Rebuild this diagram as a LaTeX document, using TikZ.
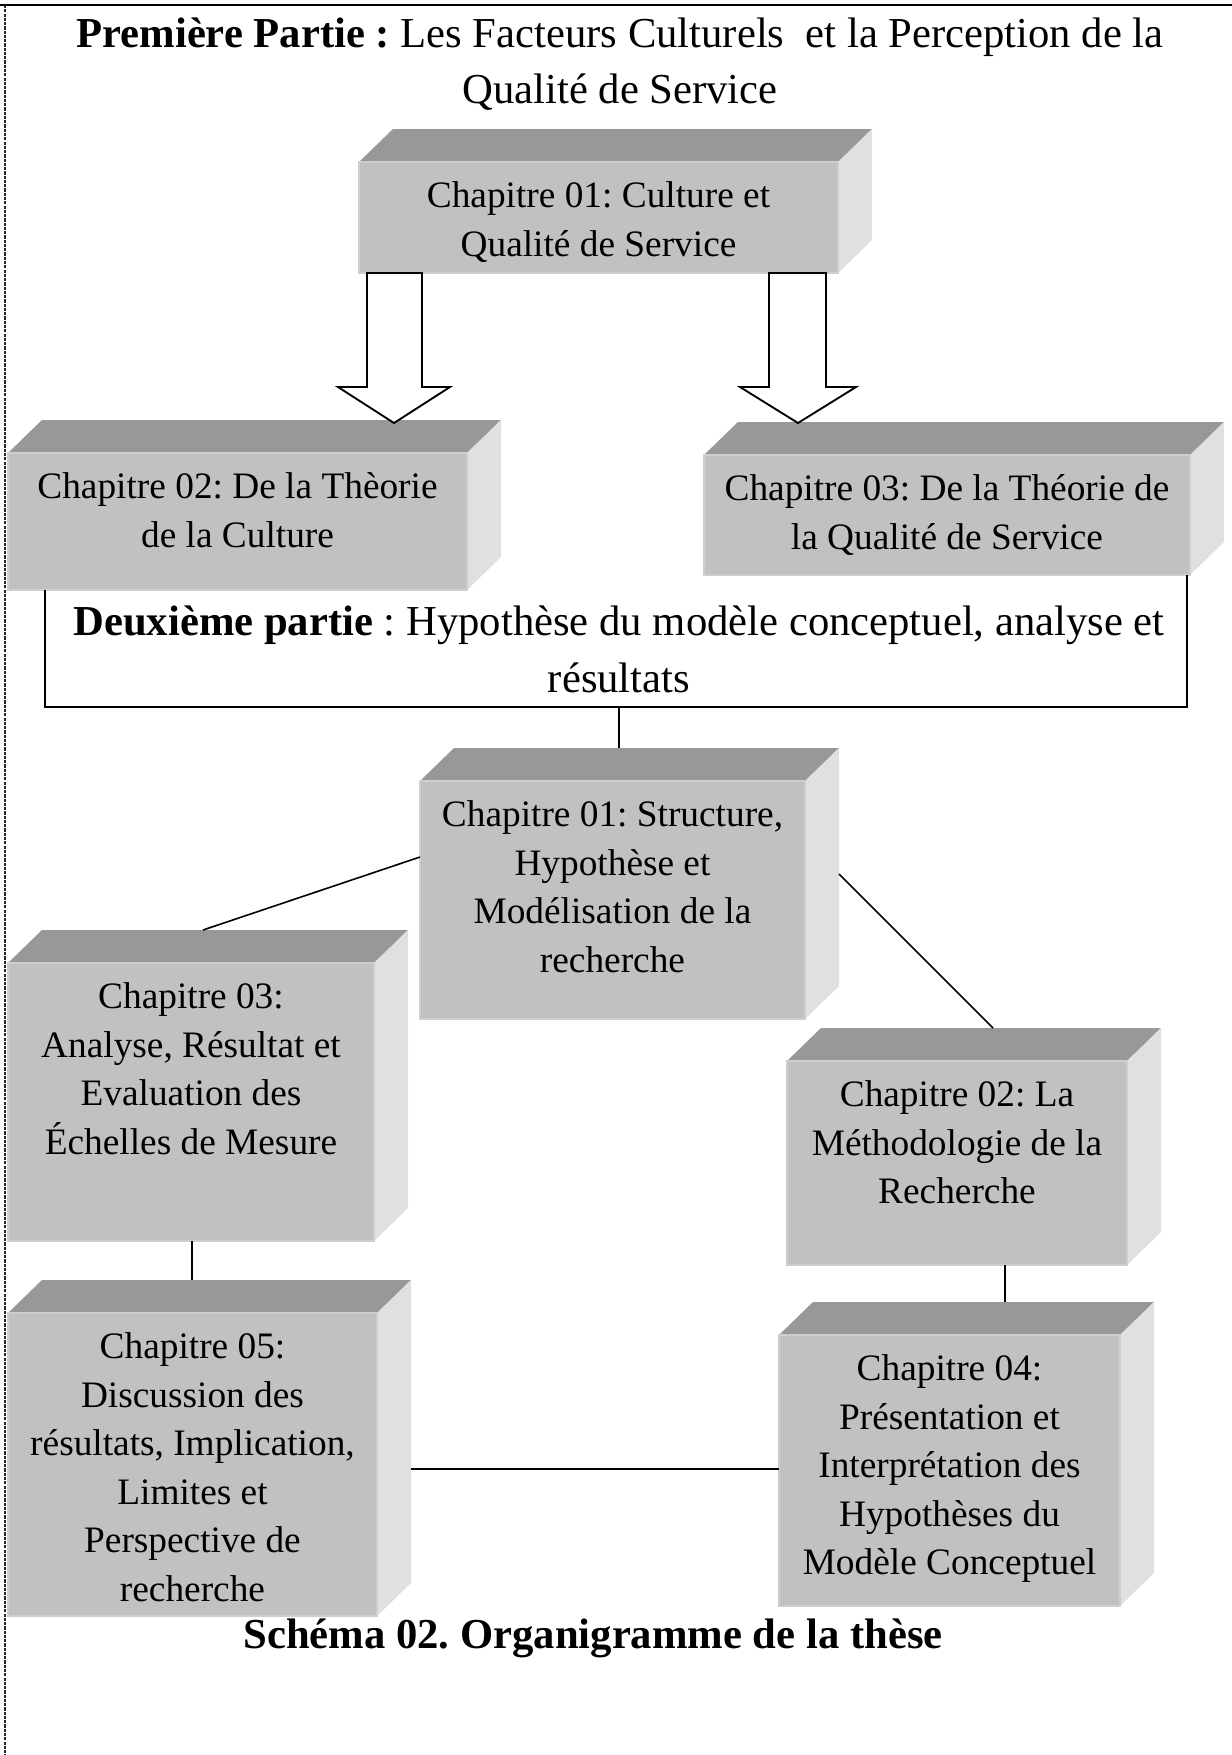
\documentclass[tikz,border=0pt]{standalone}
\usepackage{fontspec}
\setmainfont{Liberation Serif}
\usetikzlibrary{calc}
\frenchspacing

\definecolor{cubetop}{RGB}{152,152,152}
\definecolor{cubefront}{RGB}{193,193,193}
\definecolor{cubeside}{RGB}{224,224,224}
\definecolor{cubeedge}{RGB}{206,206,206}

\tikzset{
  px/.style={x=0.375pt,y=-0.375pt},
  topface/.style={fill=cubetop},
  sideface/.style={fill=cubeside},
  frontface/.style={rectangle, fill=cubefront, draw=cubeedge, line width=0.6pt,
                    inner sep=0pt, outer sep=0pt},
  chaptext/.style={align=center, inner sep=0pt, font=\fontsize{14}{18.2}\selectfont},
  bigtext/.style={align=center, inner sep=0pt, font=\fontsize{16}{20.8}\selectfont},
  link/.style={line width=0.6pt},
  blockarrow/.style={draw, fill=white, line width=0.7pt, line join=miter},
}

% a chapter block drawn as a cube: name, x, y, width, height, text
\newcommand\chapbox[6]{%
  \fill[topface] (#2,#3) -- ++(34,-33) -- ++(#4,0) -- ++(-34,33) -- cycle;
  \fill[sideface] (#2+#4,#3) -- ++(34,-33) -- ++(0,#5) -- ++(-34,33) -- cycle;
  \node[frontface, minimum width=#4*0.375pt, minimum height=#5*0.375pt,
        anchor=north west] (#1) at (#2,#3) {};
  \coordinate (#1-bk) at (#2+34,#3-33);
  \node[chaptext, anchor=north] (#1-t) at (#1.north) {\rule{0pt}{16.9pt}#6};
}

\begin{document}
\begin{tikzpicture}[px]
\useasboundingbox[fill=white] (0,0) rectangle (1232,1755);

% page frame
\draw[line width=0.8pt] (0,5) -- (1232,5);
\draw[line width=1pt, black!85, dash pattern=on 1.2pt off 0.4pt] (5,5) -- (5,1755);

% part one heading
\node[bigtext, anchor=north] (part1) at (620,17)
  {\rule{0pt}{11.25pt}\textbf{Première Partie :} Les Facteurs Culturels\ \ et la Perception de la\\Qualité de Service};

% chapter blocks
\chapbox{c11}{359}{162}{479}{111}{Chapitre 01: Culture et\\Qualité de Service}
\chapbox{c12}{8}{453}{459}{137}{Chapitre 02: De la Thèorie\\de la Culture}
\chapbox{c13}{704}{455}{486}{120}{Chapitre 03: De la Théorie de\\la Qualité de Service}
\chapbox{c21}{420}{781}{385}{238}{Chapitre 01: Structure,\\Hypothèse et\\Modélisation de la\\recherche}
\chapbox{c23}{8}{963}{366}{278}{Chapitre 03:\\Analyse, Résultat et\\Evaluation des\\Échelles de Mesure}
\chapbox{c22}{787}{1061}{340}{204}{Chapitre 02: La\\Méthodologie de la\\Recherche}
\chapbox{c25}{8}{1313}{369}{303}{Chapitre 05:\\Discussion des\\résultats, Implication,\\Limites et\\Perspective de\\recherche}
\chapbox{c24}{779}{1335}{341}{271}{Chapitre 04:\\Présentation et\\Interprétation des\\Hypothèses du\\Modèle Conceptuel}

% block arrows from the first chapter
\draw[blockarrow] ($(c11.south west)+(8,0)$) -- ++(0,114) -- ++(-29,0)
  -- ++(56,36) -- ++(56,-36) -- ++(-28,0) -- ++(0,-114) -- cycle;
\draw[blockarrow] ($(c11.south east)+(-69,0)$) -- ++(0,114) -- ++(-29,0)
  -- ++(58,36) -- ++(58,-36) -- ++(-30,0) -- ++(0,-114) -- cycle;

% part two frame and heading
\coordinate (fl) at (45,707);
\coordinate (fr) at (1187,707);
\draw[line width=0.85pt] (fl |- c12.south) -- (fl) -- (fr) -- (fr |- c13.south);
\node[bigtext, anchor=north, font=\fontsize{16}{21.4}\selectfont] (part2) at (619,605)
  {\rule{0pt}{11.25pt}\textbf{Deuxième partie} : Hypothèse du modèle conceptuel, analyse et\\résultats};

% connectors of part two
\coordinate (p2s) at (619,707);
\draw[link] (p2s) -- (p2s |- c21-bk);
\draw[link] ($(c21.north west)+(0,76)$) -- ($(c23-bk)+(161,0)$);
\draw[link] ($(c21.north east)+(34,93)$) -- ($(c22-bk)+(172,0)$);
\draw[link] ($(c23.south west)+(184,0)$) -- ($(c25-bk)+(150,0)$);
\draw[link] ($(c22.south west)+(218,0)$) -- ($(c24-bk)+(192,0)$);
\draw[line width=0.75pt] ($(c25.north east)+(34,156)$) -- ($(c24.north west)+(0,134)$);

% caption
\node[bigtext, anchor=base] (caption) at (593,1648)
  {\textbf{Schéma 02. Organigramme de la thèse}};
\end{tikzpicture}
\end{document}
